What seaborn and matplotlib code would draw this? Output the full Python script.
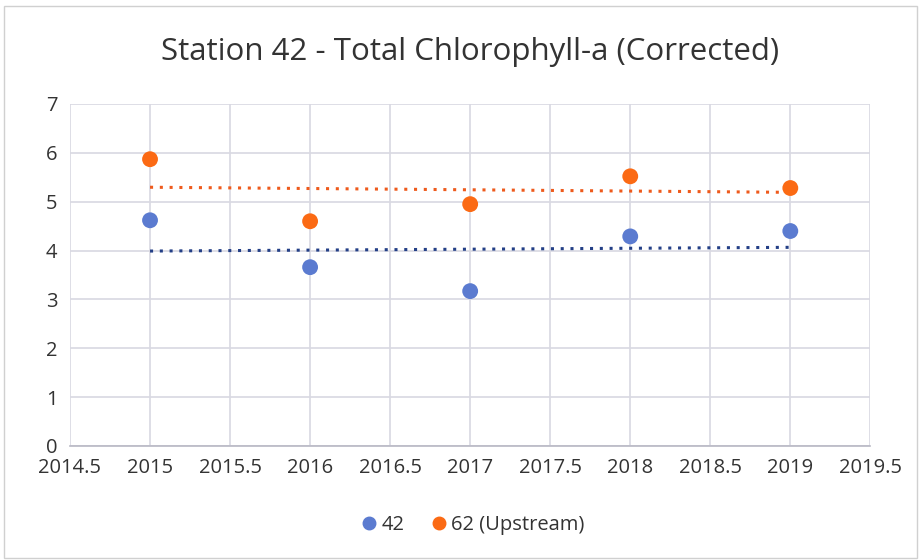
import matplotlib
matplotlib.use("Agg")
import matplotlib.pyplot as plt
import numpy as np
import pandas as pd
import seaborn as sns

years = [2015, 2016, 2017, 2018, 2019]
station_42 = [4.62, 3.66, 3.17, 4.29, 4.40]
station_62 = [5.87, 4.60, 4.95, 5.52, 5.28]
series_names = ["42", "62 (Upstream)"]
x_ticks = [2014.5, 2015, 2015.5, 2016, 2016.5, 2017, 2017.5, 2018, 2018.5, 2019, 2019.5]
y_ticks = [0, 1, 2, 3, 4, 5, 6, 7]

colors = {"42": "#5b7bd0", "62 (Upstream)": "#fb6a14"}
trend_colors = {"42": "#233f86", "62 (Upstream)": "#ee5a1c"}

df = pd.DataFrame({
    "year": years * 2,
    "value": station_42 + station_62,
    "station": [series_names[0]] * len(years) + [series_names[1]] * len(years),
})

sns.set_theme(style="white")
plt.rcParams["font.family"] = ["Open Sans", "DejaVu Sans"]

fig = plt.figure(figsize=(9.21, 5.6), dpi=100)
ax = fig.add_axes([0.076, 0.2036, 0.869, 0.6107])

# dotted linear trend lines, one per station
for name in series_names:
    sub = df[df["station"] == name]
    sns.regplot(data=sub, x="year", y="value", ax=ax, scatter=False, ci=None,
                truncate=True,
                line_kws={"color": trend_colors[name], "linestyle": (0, (1, 2.2)),
                          "linewidth": 2.2, "zorder": 2})

sns.scatterplot(data=df, x="year", y="value", hue="station", palette=colors,
                s=130, edgecolor="none", ax=ax, zorder=3, legend=False)

ax.set_xlim(2014.5, 2019.5)
ax.set_ylim(0, 7)
ax.set_xticks(x_ticks)
ax.set_xticklabels([f"{t:g}" for t in x_ticks])
ax.set_yticks(y_ticks)
ax.grid(True, color="#d8d8e2", linewidth=1.2)
ax.set_axisbelow(True)
for side in ["top", "right", "left"]:
    ax.spines[side].set_visible(False)
ax.spines["bottom"].set_color("#b8b8c4")
ax.spines["bottom"].set_linewidth(1.2)
ax.tick_params(axis="both", length=0, labelsize=14.5, colors="#333333", pad=9)
ax.set_xlabel("")
ax.set_ylabel("")

fig.text(0.51, 0.907, "Station 42 - Total Chlorophyll-a (Corrected)",
         ha="center", va="center", fontsize=22.5, color="#333333")

handles = [plt.Line2D([], [], marker="o", linestyle="", markersize=9,
                      color=colors[n]) for n in series_names]
fig.legend(handles, series_names, loc="center", bbox_to_anchor=(0.51, 0.062),
           ncol=2, frameon=False, fontsize=14.5, handletextpad=-0.1,
           handlelength=1.4, columnspacing=1.0, labelcolor="#333333")

# faint frame around the chart area
frame = plt.Rectangle((0.004, 0.004), 0.992, 0.985, transform=fig.transFigure,
                      fill=False, edgecolor="#d0d0d0", linewidth=1)
fig.patches.append(frame)

fig.savefig("out.png", dpi=100)
